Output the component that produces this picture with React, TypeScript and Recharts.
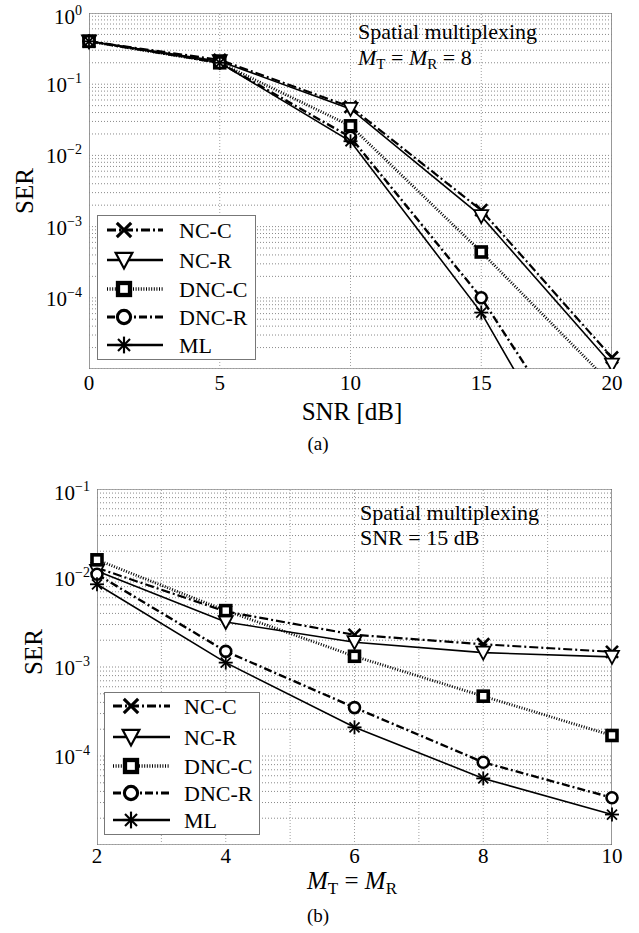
import React from 'react';
import { LineChart, Line, XAxis, YAxis, ReferenceLine, ReferenceArea, Legend } from 'recharts';

// (a) SER vs SNR, M_T = M_R = 8
const snrDb = [0, 5, 10, 15, 20];
const ncCA = [0.4, 0.22, 0.048, 0.0017, 1.45e-5];
const ncRA = [0.4, 0.21, 0.045, 0.0014, 1.15e-5];
const dncCA = [0.4, 0.2, 0.026, 0.00044, 6e-6];
const dncRA = [0.4, 0.2, 0.018, 1e-4, 1.5e-7];
const mlA = [0.4, 0.2, 0.0158, 6.2e-5, 4e-8];

// (b) SER vs antennas, SNR = 15 dB
const antennas = [2, 4, 6, 8, 10];
const ncCB = [0.013, 0.0042, 0.0023, 0.0018, 0.00148];
const ncRB = [0.012, 0.0032, 0.0019, 0.00145, 0.0013];
const dncCB = [0.016, 0.0043, 0.00132, 0.00047, 0.00017];
const dncRB = [0.011, 0.0015, 0.00035, 8.5e-5, 3.4e-5];
const mlB = [0.0085, 0.00112, 0.00021, 5.6e-5, 2.2e-5];

const yTicksA = [1, 1e-1, 1e-2, 1e-3, 1e-4];
const yTicksB = [1e-1, 1e-2, 1e-3, 1e-4];
const xTicksA = [0, 5, 10, 15, 20];
const xTicksB = [2, 4, 6, 8, 10];
const xMinorB = [3, 5, 7, 9];
const seriesNames = ['NC-C', 'NC-R', 'DNC-C', 'DNC-R', 'ML'];

const FONT = "'Liberation Serif', 'Times New Roman', Times, 'DejaVu Serif', serif";
const txt = { fontFamily: FONT };

const styles: Record<string, { shape: string; dash?: string; width: number }> = {
  'NC-C': { shape: 'x', dash: '9 3 2 3', width: 2.2 },
  'NC-R': { shape: 'tri', width: 1.6 },
  'DNC-C': { shape: 'sq', dash: '1 1.6', width: 2.8 },
  'DNC-R': { shape: 'circ', dash: '8 3 2 3', width: 2.4 },
  'ML': { shape: 'star', width: 1.6 },
};

const Marker = ({ shape, cx, cy, k = 1 }: { shape: string; cx: number; cy: number; k?: number }) => {
  const s = 6 * k;
  if (shape === 'x')
    return (
      <g stroke="#000" strokeWidth={2.6 * k}>
        <line x1={cx - s} y1={cy - s} x2={cx + s} y2={cy + s} />
        <line x1={cx - s} y1={cy + s} x2={cx + s} y2={cy - s} />
      </g>
    );
  if (shape === 'tri')
    return (
      <polygon
        points={`${cx - 7 * k},${cy - 6 * k} ${cx + 7 * k},${cy - 6 * k} ${cx},${cy + 7 * k}`}
        fill="#fff"
        stroke="#000"
        strokeWidth={1.8 * k}
      />
    );
  if (shape === 'sq')
    return <rect x={cx - 5 * k} y={cy - 5 * k} width={10 * k} height={10 * k} fill="#fff" stroke="#000" strokeWidth={3.6 * k} />;
  if (shape === 'circ') return <circle cx={cx} cy={cy} r={5.5 * k} fill="#fff" stroke="#000" strokeWidth={2.6 * k} />;
  return (
    <g stroke="#000" strokeWidth={1.8 * k}>
      <line x1={cx} y1={cy - 7 * k} x2={cx} y2={cy + 7 * k} />
      <line x1={cx - 7 * k} y1={cy} x2={cx + 7 * k} y2={cy} />
      <line x1={cx - 5 * k} y1={cy - 5 * k} x2={cx + 5 * k} y2={cy + 5 * k} />
      <line x1={cx - 5 * k} y1={cy + 5 * k} x2={cx + 5 * k} y2={cy - 5 * k} />
    </g>
  );
};

const makeDot = (name: string, yMin: number) => (props: any) => {
  const { cx, cy, value, index } = props;
  if (value == null || value < yMin || cx == null) return <g key={`${name}-${index}`} />;
  return (
    <g key={`${name}-${index}`}>
      <Marker shape={styles[name].shape} cx={cx} cy={cy} />
    </g>
  );
};

const YTick = (props: any) => {
  const { x, y, payload, top } = props;
  const exp = Math.round(Math.log10(payload.value));
  const base = payload.value === top ? y + 11 : y + 8;
  return (
    <text x={x - 7} y={base} textAnchor="end" style={txt} fontSize={21} fill="#000">
      <tspan>10</tspan>
      <tspan fontSize={14} dy={-9}>{exp < 0 ? `\u2212${-exp}` : `${exp}`}</tspan>
    </text>
  );
};

const XTick = (props: any) => {
  const { x, y, payload, off } = props;
  return (
    <text x={x} y={y + off} textAnchor="middle" style={txt} fontSize={21} fill="#000">
      {payload.value}
    </text>
  );
};

const LegendBox = ({ w, h, rows, lineX, markX, textX }: any) => (
  <svg width={w} height={h} style={{ display: 'block' }}>
    <rect x={0.5} y={0.5} width={w - 1} height={h - 1} fill="#fff" stroke="#777" />
    {seriesNames.map((n, i) => (
      <g key={n}>
        <line
          x1={lineX[0]}
          x2={lineX[1]}
          y1={rows[i]}
          y2={rows[i]}
          stroke="#000"
          strokeWidth={styles[n].width + 0.8}
          strokeDasharray={styles[n].dash}
        />
        <Marker shape={styles[n].shape} cx={markX} cy={rows[i]} k={1.2} />
        <text x={textX} y={rows[i] + 8} style={txt} fontSize={22} fill="#000">
          {n}
        </text>
      </g>
    ))}
  </svg>
);

const minorValues = (lo: number, hi: number) => {
  const out: number[] = [];
  for (let e = Math.round(Math.log10(lo)); e < Math.round(Math.log10(hi)); e++)
    for (let m = 1; m < 10; m++) out.push(m * Math.pow(10, e));
  out.push(hi);
  return out;
};

const gridY = (lo: number, hi: number) =>
  minorValues(lo, hi).map((v) => (
    <ReferenceLine key={`gy${v}`} y={v} stroke="#8a8a8a" strokeDasharray="1 2" ifOverflow="hidden" />
  ));

const gridX = (vals: number[]) =>
  vals.map((v) => <ReferenceLine key={`gx${v}`} x={v} stroke="#a0a0a0" strokeDasharray="1 2" ifOverflow="hidden" />);

const PanelA = () => {
  const data = snrDb.map((x, i) => ({
    x,
    'NC-C': ncCA[i],
    'NC-R': ncRA[i],
    'DNC-C': dncCA[i],
    'DNC-R': dncRA[i],
    ML: mlA[i],
  }));
  return (
    <LineChart width={639} height={400} data={data} margin={{ top: 13, right: 27, bottom: 3, left: 0 }}>
      <XAxis
        dataKey="x"
        type="number"
        domain={[0, 20]}
        ticks={xTicksA}
        tick={<XTick off={21} />}
        tickLine={false}
        axisLine={false}
        tickSize={0}
        tickMargin={0}
        height={28}
      />
      <YAxis
        type="number"
        scale="log"
        domain={[1e-5, 1]}
        allowDataOverflow
        ticks={yTicksA}
        tick={<YTick top={1} />}
        tickLine={false}
        axisLine={false}
        tickSize={0}
        tickMargin={0}
        width={89}
      />
      {gridY(1e-5, 1)}
      {gridX(xTicksA.slice(1, -1))}
      <ReferenceArea x1={0} x2={20} y1={1e-5} y2={1} fill="none" stroke="#555" strokeWidth={1.2} ifOverflow="hidden" />
      {seriesNames.map((n) => (
        <Line
          key={n}
          dataKey={n}
          type="linear"
          stroke="#000"
          strokeWidth={styles[n].width}
          strokeDasharray={styles[n].dash}
          dot={makeDot(n, 1e-5)}
          isAnimationActive={false}
        />
      ))}
      <Legend
        layout="vertical"
        align="center"
        verticalAlign="middle"
        wrapperStyle={{ left: 97, top: 215, width: 159, height: 145 }}
        content={() => (
          <LegendBox w={159} h={145} rows={[15, 45, 74, 102, 130]} lineX={[10, 66]} markX={27} textX={82} />
        )}
      />
    </LineChart>
  );
};

const PanelB = () => {
  const data = antennas.map((x, i) => ({
    x,
    'NC-C': ncCB[i],
    'NC-R': ncRB[i],
    'DNC-C': dncCB[i],
    'DNC-R': dncRB[i],
    ML: mlB[i],
  }));
  return (
    <LineChart width={639} height={420} data={data} margin={{ top: 29, right: 27, bottom: 5, left: 0 }}>
      <XAxis
        dataKey="x"
        type="number"
        domain={[2, 10]}
        ticks={xTicksB}
        tick={<XTick off={18} />}
        tickLine={false}
        axisLine={false}
        tickSize={0}
        tickMargin={0}
        height={30}
      />
      <YAxis
        type="number"
        scale="log"
        domain={[1e-5, 1e-1]}
        allowDataOverflow
        ticks={yTicksB}
        tick={<YTick top={1e-1} />}
        tickLine={false}
        axisLine={false}
        tickSize={0}
        tickMargin={0}
        width={97}
      />
      {gridY(1e-5, 1e-1)}
      {gridX([...xTicksB.slice(1, -1), ...xMinorB])}
      <ReferenceArea x1={2} x2={10} y1={1e-5} y2={1e-1} fill="none" stroke="#555" strokeWidth={1.2} ifOverflow="hidden" />
      {seriesNames.map((n) => (
        <Line
          key={n}
          dataKey={n}
          type="linear"
          stroke="#000"
          strokeWidth={styles[n].width}
          strokeDasharray={styles[n].dash}
          dot={makeDot(n, 1e-5)}
          isAnimationActive={false}
        />
      ))}
      <Legend
        layout="vertical"
        align="center"
        verticalAlign="middle"
        wrapperStyle={{ left: 104, top: 232, width: 156, height: 143 }}
        content={() => (
          <LegendBox w={156} h={143} rows={[14, 45, 74, 101, 128]} lineX={[9, 66]} markX={27} textX={80} />
        )}
      />
    </LineChart>
  );
};

export default function App() {
  return (
    <div style={{ position: 'absolute', left: 0, top: 0, width: 639, height: 933, background: '#fff', fontFamily: FONT }}>
      <div style={{ position: 'absolute', left: 0, top: 0 }}>
        <PanelA />
      </div>
      <div style={{ position: 'absolute', left: 0, top: 460 }}>
        <PanelB />
      </div>
      <svg width={639} height={933} style={{ position: 'absolute', left: 0, top: 0, pointerEvents: 'none', fontFamily: FONT }}>
        <g fill="#000">
          <text transform="translate(33,191) rotate(-90)" textAnchor="middle" fontSize={25} style={txt}>SER</text>
          <text transform="translate(42,652) rotate(-90)" textAnchor="middle" fontSize={25} style={txt}>SER</text>
          <text x={352} y={420} textAnchor="middle" fontSize={25} style={txt}>SNR [dB]</text>
          <text x={318} y={450} textAnchor="middle" fontSize={19} style={txt}>(a)</text>
          <text x={352} y={889} textAnchor="middle" fontSize={25} style={txt}>
            <tspan fontStyle="italic">M</tspan>
            <tspan fontSize={17} dy={5}>T</tspan>
            <tspan dy={-5}> = </tspan>
            <tspan fontStyle="italic">M</tspan>
            <tspan fontSize={17} dy={5}>R</tspan>
          </text>
          <text x={318} y={922} textAnchor="middle" fontSize={19} style={txt}>(b)</text>
          <text x={358} y={39} fontSize={22} style={txt}>Spatial multiplexing</text>
          <text x={358} y={65} fontSize={22} style={txt}>
            <tspan fontStyle="italic">M</tspan>
            <tspan fontSize={15} dy={4}>T</tspan>
            <tspan dy={-4}> = </tspan>
            <tspan fontStyle="italic">M</tspan>
            <tspan fontSize={15} dy={4}>R</tspan>
            <tspan dy={-4}> = 8</tspan>
          </text>
          <text x={360} y={520} fontSize={22} style={txt}>Spatial multiplexing</text>
          <text x={360} y={545} fontSize={22} style={txt}>SNR = 15 dB</text>
        </g>
      </svg>
    </div>
  );
}
